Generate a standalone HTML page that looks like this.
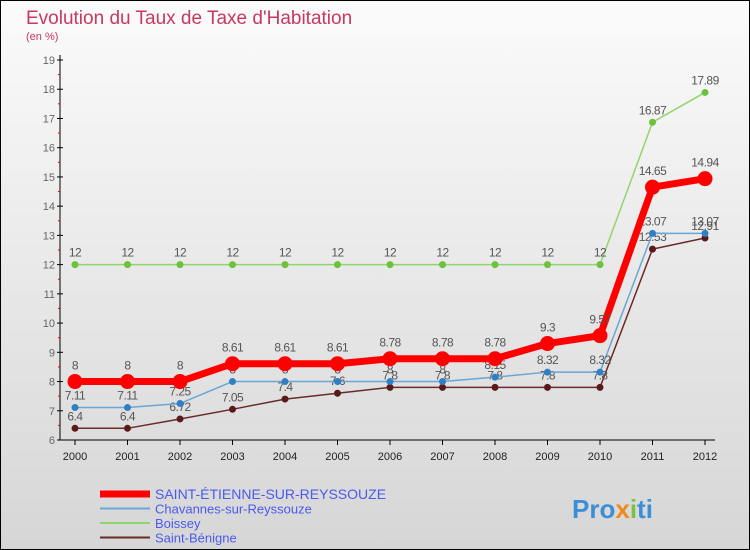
<!DOCTYPE html>
<html><head><meta charset="utf-8"><style>
body{margin:0}
#c{width:750px;height:550px;position:relative;box-sizing:border-box;border:1px solid #000;background:linear-gradient(#fbfbfb,#d6d6d6);font-family:"Liberation Sans",sans-serif;overflow:hidden}
</style></head><body>
<div id="c">
<svg id="s" width="750" height="550" style="position:absolute;left:-1px;top:-1px">
<text x="26" y="24" font-size="19" fill="#c8385f">Evolution du Taux de Taxe d'Habitation</text>
<text x="26" y="40" font-size="11" fill="#c8385f">(en %)</text>
<g id="g"></g>
<text x="572" y="518" font-size="26" font-weight="bold" fill="#3a8fd8">Pro<tspan fill="#f08a1c">x</tspan><tspan fill="#7bc142">i</tspan>ti</text>
</svg>
</div>
<script>
const years=[2000,2001,2002,2003,2004,2005,2006,2007,2008,2009,2010,2011,2012];
const stEtienne=[8,8,8,8.61,8.61,8.61,8.78,8.78,8.78,9.3,9.57,14.65,14.94];
const chavannes=[7.11,7.11,7.25,8,8,8,8,8,8.15,8.32,8.32,13.07,13.07];
const boissey=[12,12,12,12,12,12,12,12,12,12,12,16.87,17.89];
const stBenigne=[6.4,6.4,6.72,7.05,7.4,7.6,7.8,7.8,7.8,7.8,7.8,12.53,12.91];
const yTicks=[6,7,8,9,10,11,12,13,14,15,16,17,18,19];
const NS="http://www.w3.org/2000/svg",g=document.getElementById('g');
const X=i=>75+i*52.5, Y=v=>440-(v-6)*(380/13);
function el(t,a,name){const e=document.createElementNS(NS,t);for(const k in a)e.setAttribute(k,a[k]);


g.appendChild(e);return e;}
el('line',{x1:60,y1:55,x2:60,y2:440,stroke:'#000'},'y-axis');
el('line',{x1:60,y1:440,x2:715,y2:440,stroke:'#000'},'x-axis');
yTicks.forEach(v=>{el('line',{x1:57,y1:Y(v),x2:63,y2:Y(v),stroke:'#000'},'y-tick');
const t=el('text',{x:55,y:Y(v)+4,'font-size':11,fill:'#666','text-anchor':'end'},'y-tick-label');t.textContent=v;
if(v<19)el('line',{x1:58,y1:Y(v+0.5),x2:60,y2:Y(v+0.5),stroke:'#e00'},'y-minor-tick');});
years.forEach((yr,i)=>{el('line',{x1:X(i),y1:440,x2:X(i),y2:445,stroke:'#000'},'x-tick');
const t=el('text',{x:X(i),y:460,'font-size':11,fill:'#222','text-anchor':'middle'},'x-tick-label');t.textContent=yr;});
const series=[[stBenigne,'#6b2a2a',1.5,3.5,'#5a1a1a','saint-benigne'],[boissey,'#8fd66a',1.5,3.5,'#6cc23a','boissey'],[chavannes,'#6aa6d6',1.5,3.5,'#2f7fc4','chavannes'],[stEtienne,'#f00',7,7.5,'#f00','saint-etienne']];
series.forEach(([d,c,w,r,pc,n])=>{
el('polyline',{points:d.map((v,i)=>X(i)+','+Y(v)).join(' '),fill:'none',stroke:c,'stroke-width':w,'stroke-linejoin':'round'},n+'-line');
d.forEach((v,i)=>{el('circle',{cx:X(i),cy:Y(v),r:r,fill:pc},n+'-point');
const t=el('text',{x:X(i),y:Y(v)-(n=='saint-etienne'?12:8),'font-size':12,fill:'#555','text-anchor':'middle','letter-spacing':'-0.5'},n+'-value-label');t.textContent=v;});});
const leg=[['SAINT-ÉTIENNE-SUR-REYSSOUZE','#f00',7,'legend-saint-etienne',14],['Chavannes-sur-Reyssouze','#6aa6d6',2,'legend-chavannes',13],['Boissey','#8fd66a',2,'legend-boissey',13],['Saint-Bénigne','#6b2a2a',2,'legend-saint-benigne',13]];
leg.forEach(([t,c,w,n,fs],i)=>{const y=494+i*14.5;
el('line',{x1:100,y1:y,x2:150,y2:y,stroke:c,'stroke-width':w},n+'-swatch');
const e=el('text',{x:155,y:y+5,'font-size':fs,fill:'#4a5aee'},n+'-label');e.textContent=t;});
</script>
</body></html>
